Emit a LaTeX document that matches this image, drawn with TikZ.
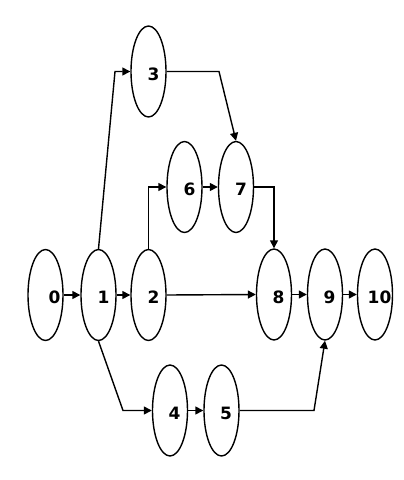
\documentclass[tikz,border=0pt]{standalone}
\usepackage{fontspec}
\setmainfont{DejaVu Sans}
\usetikzlibrary{shapes.geometric,arrows.meta,calc}
\begin{document}
\begin{tikzpicture}[x=1pt,y=-1pt,
  el/.style={draw,ellipse,line width=1.4pt,minimum width=35pt,minimum height=91pt,inner sep=0pt},
  lbl/.style={inner sep=0pt,font=\fontsize{17}{18}\selectfont\bfseries},
  arr/.style={line width=1.4pt,-{Triangle[length=8pt,width=8pt]}}]
\useasboundingbox (0,0) rectangle (404,480);
\node[el] (n0) at (45.5,295) {};
\node[el] (n1) at (98.5,295) {};
\node[el] (n2) at (148.5,295) {};
\node[el] (n3) at (148.5,71.5) {};
\node[el] (n6) at (184.5,187) {};
\node[el] (n7) at (236,187) {};
\node[el] (n8) at (274,294.5) {};
\node[el] (n9) at (325,294.5) {};
\node[el] (n10) at (375,294.5) {};
\node[el] (n4) at (170,410.5) {};
\node[el] (n5) at (221.5,410.5) {};
\node[lbl] (t0) at (54.5,297.5) {0};
\node[lbl] (t1) at (103.5,297.5) {1};
\node[lbl] (t2) at (153.5,297.5) {2};
\node[lbl] (t3) at (153.5,74) {3};
\node[lbl] (t6) at (189.5,189.5) {6};
\node[lbl] (t7) at (241,189.5) {7};
\node[lbl] (t8) at (278.5,297) {8};
\node[lbl] (t9) at (329.5,297) {9};
\node[lbl] (t10) at (379.5,297) {10};
\node[lbl] (t4) at (174.5,413) {4};
\node[lbl] (t5) at (226,413) {5};
\coordinate (c13) at (115,71.5);
\coordinate (c14) at (123,410.5);
\coordinate (c37) at (219,71.5);
\coordinate (c59) at (314,410.5);
\draw[arr] (n0.east) -- (n1.west);
\draw[arr] (n1.east) -- (n2.west);
\draw[arr] (n1.north) -- (c13) -- (n3.west);
\draw[arr] (n1.south) -- (c14) -- (n4.west);
\draw[arr] (n2.north) -- (n2.north |- n6.west) -- (n6.west);
\draw[arr] (n6.east) -- (n7.west);
\draw[arr] (n3.east) -- (c37) -- (n7.north);
\draw[arr] (n7.east) -- (n7.east -| n8.north) -- (n8.north);
\draw[arr] (n2.east) -- (n8.west);
\draw[arr] (n8.east) -- (n9.west);
\draw[arr] (n9.east) -- (n10.west);
\draw[arr] (n4.east) -- (n5.west);
\draw[arr] (n5.east) -- (c59) -- (n9.south);
\end{tikzpicture}
\end{document}
